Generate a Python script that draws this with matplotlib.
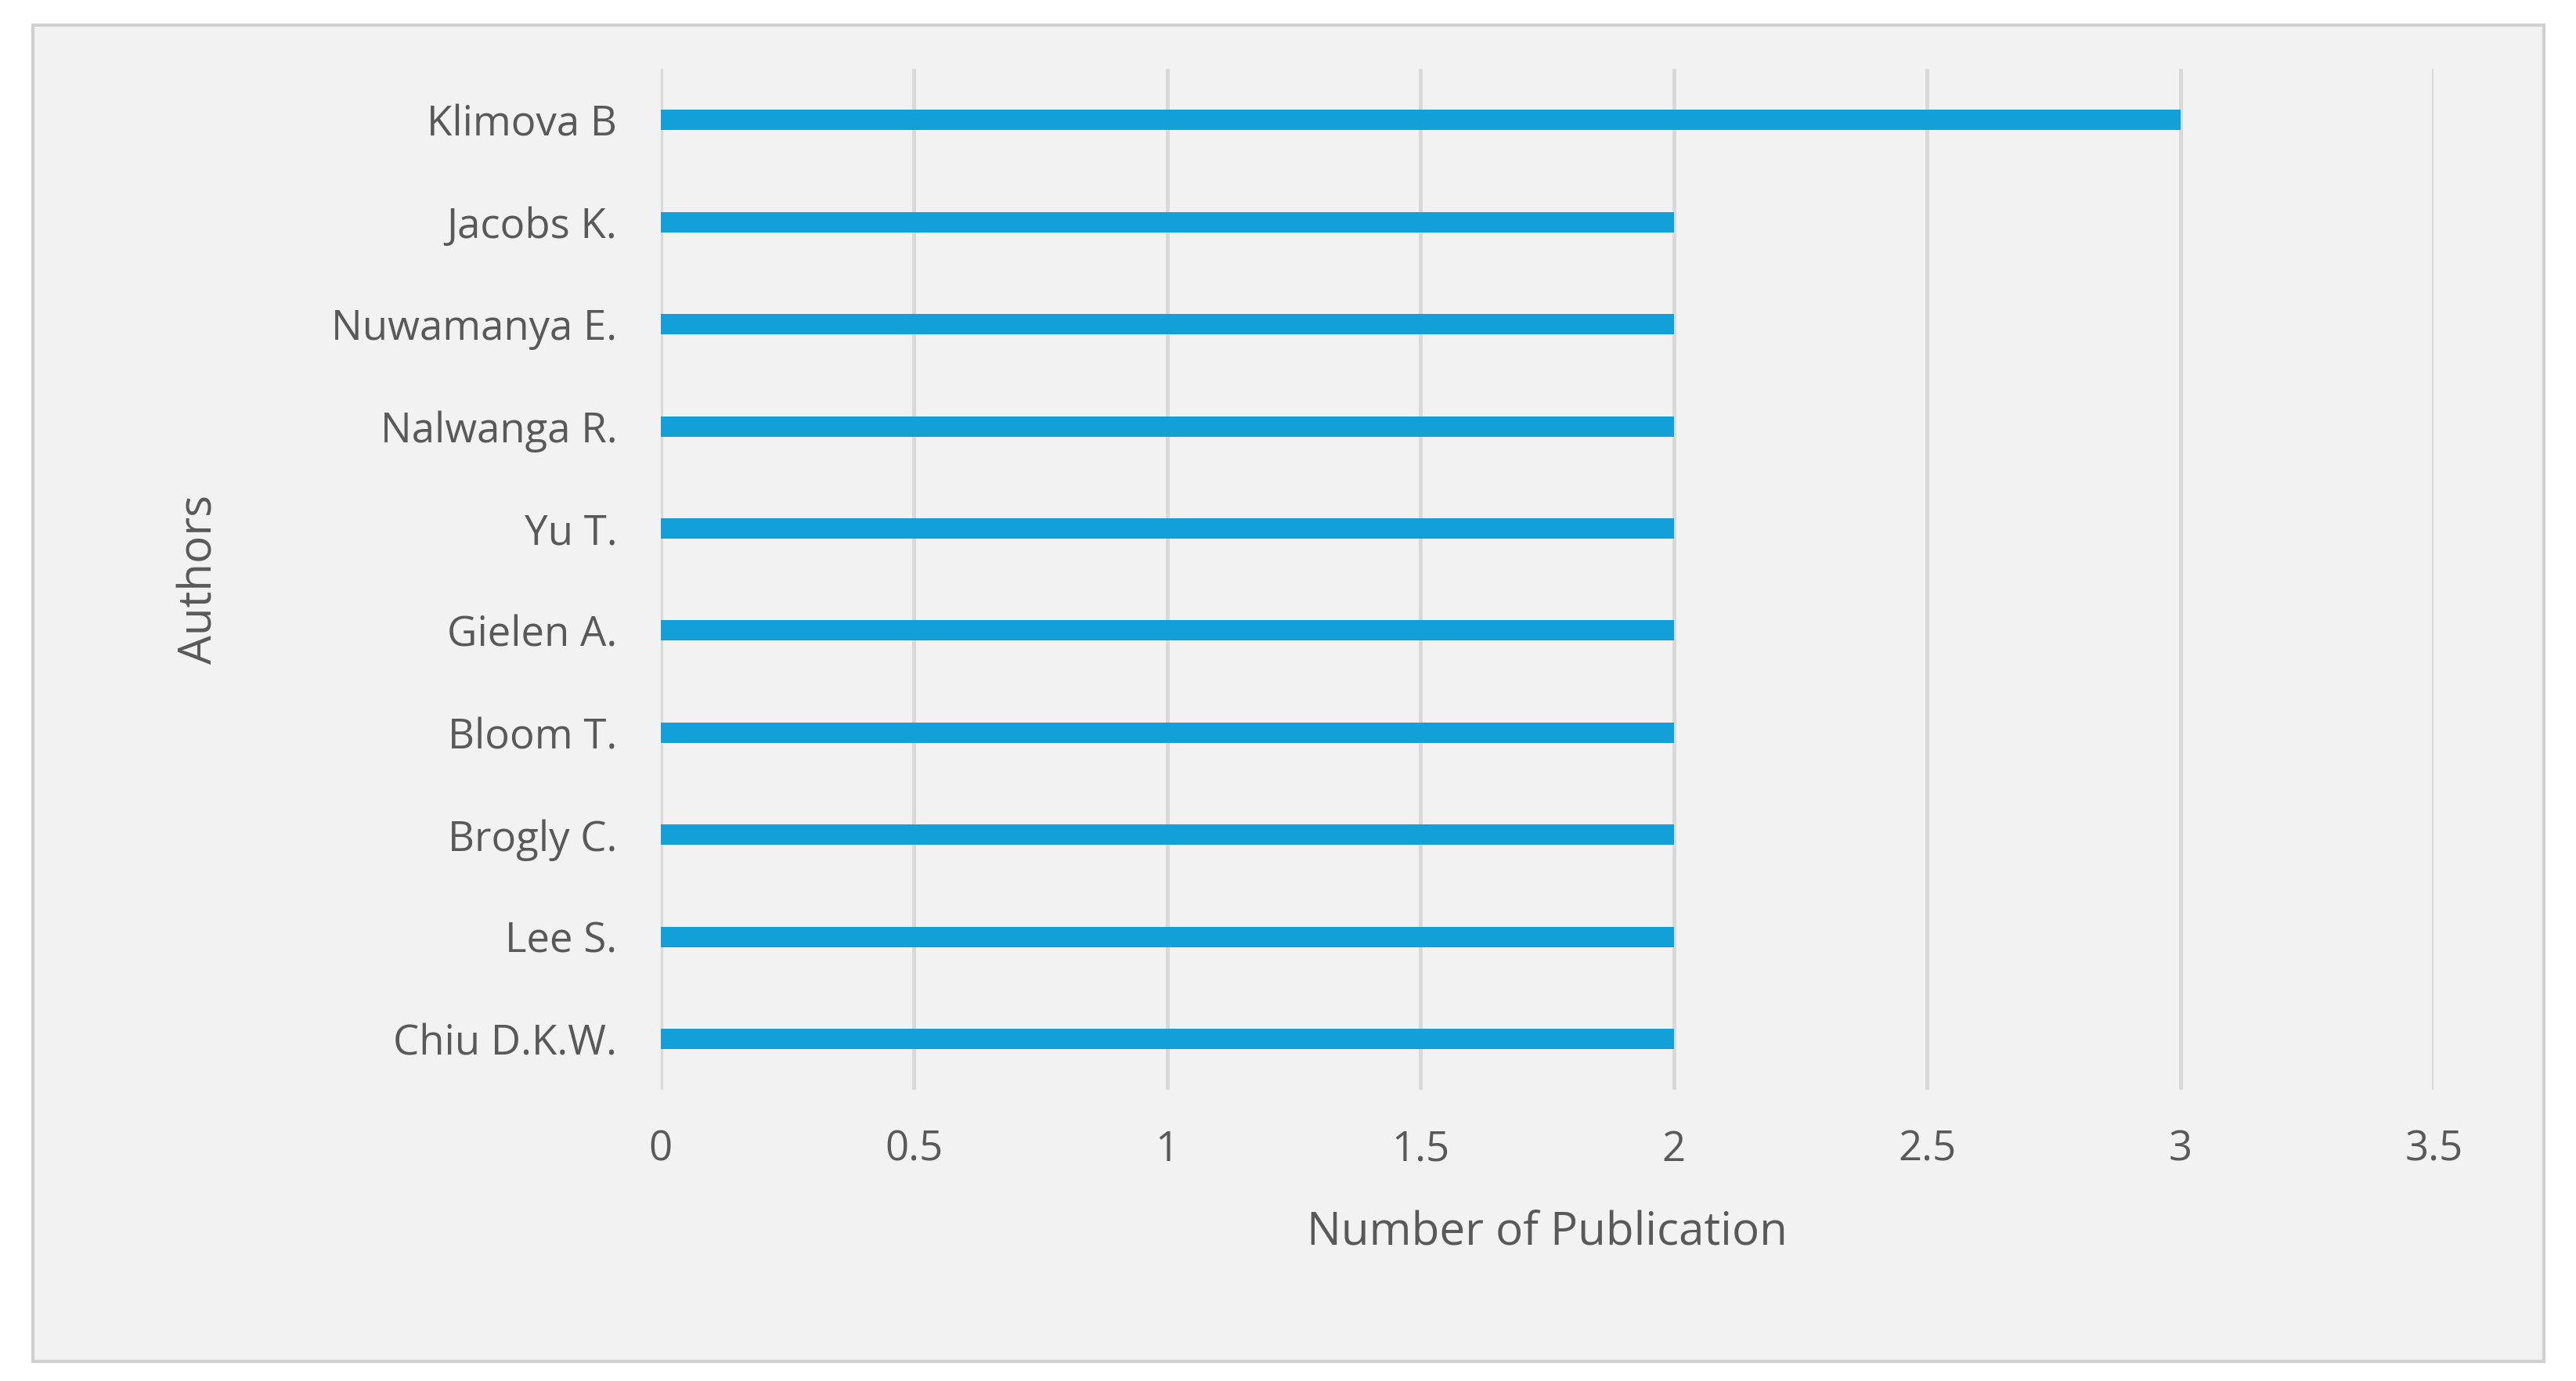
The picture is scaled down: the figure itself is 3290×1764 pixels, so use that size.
import matplotlib.pyplot as plt
from matplotlib.patches import Rectangle

authors = ['Klimova B', 'Jacobs K.', 'Nuwamanya E.', 'Nalwanga R.', 'Yu T.',
           'Gielen A.', 'Bloom T.', 'Brogly C.', 'Lee S.', 'Chiu D.K.W.']
pubs = [3, 2, 2, 2, 2, 2, 2, 2, 2, 2]
xticks = [0, 0.5, 1, 1.5, 2, 2.5, 3, 3.5]
xtick_labels = ['0', '0.5', '1', '1.5', '2', '2.5', '3', '3.5']

plt.rcParams['font.family'] = ['Open Sans', 'DejaVu Sans']
txt = '#595959'
bg = '#f2f2f2'

fig = plt.figure(figsize=(16.455, 8.82), dpi=200)
fig.patch.set_facecolor('white')
fig.add_artist(Rectangle((20/1568, 1-828/840), 1528/1568, 813/840,
                         transform=fig.transFigure, facecolor=bg,
                         edgecolor='#d0d0d0', lw=1.5, zorder=-10))

ax = fig.add_axes([402/1568, 1-663/840, (1481-402)/1568, 621/840])
ax.set_facecolor(bg)
y = list(range(len(authors)))[::-1]
ax.barh(y, pubs, height=0.2, color='#13a0d8', zorder=3)
ax.set_xlim(0, 3.5)
ax.set_ylim(-0.5, 9.5)
ax.set_xticks(xticks)
ax.set_xticklabels(xtick_labels)
ax.set_yticks(y)
ax.set_yticklabels(authors)
ax.grid(axis='x', color='#d9d9d9', lw=1.8, zorder=0)
for s in ax.spines.values():
    s.set_visible(False)
ax.tick_params(length=0, labelsize=19, colors=txt)
ax.tick_params(axis='x', pad=18)
ax.tick_params(axis='y', pad=20)
ax.set_xlabel('Number of Publication', fontsize=21, color=txt, labelpad=18)
ax.set_ylabel('Authors', fontsize=21, color=txt, labelpad=50)

fig.savefig('out.png', dpi=200, facecolor='white')
